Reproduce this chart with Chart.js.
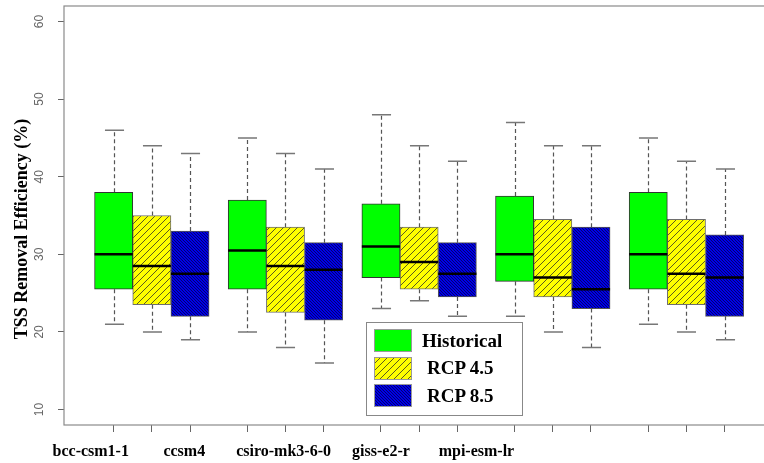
<!DOCTYPE html>
<html>
<head>
<meta charset="utf-8">
<script src="https://cdn.jsdelivr.net/npm/chart.js@4.4.1/dist/chart.umd.min.js"></script>
<style>
html, body { margin: 0; padding: 0; overflow: hidden; background: #fff; }
#wrap { position: relative; width: 764px; height: 463px; overflow: hidden; }
#grafico { position: absolute; left: 0; top: 0; }
#leyenda { position: absolute; left: 366px; top: 322px; width: 155px; height: 92px; border: 1px solid #888; background: #fff;
  font: bold 19px "Liberation Serif", "Times New Roman", serif; color: #000; }
.fila { position: absolute; left: 7px; height: 23px; display: flex; align-items: center; }
.fila canvas { display: block; }
.fila span { margin-left: 10px; }
</style>
</head>
<body>
<div id="wrap">
  <canvas id="grafico" width="810" height="463"></canvas>
  <div id="leyenda"></div>
</div>
<script>
// ---- datos ----
var modelos = ['bcc-csm1-1', 'ccsm4', 'csiro-mk3-6-0', 'giss-e2-r', 'mpi-esm-lr'];
var series = ['Historical', 'RCP 4.5', 'RCP 8.5'];

// bigote inferior, Q1, mediana, Q3, bigote superior (uno por modelo)
var histMin = [21, 20, 23, 22, 21];
var histQ1  = [25.5, 25.5, 27, 26.5, 25.5];
var histMed = [30, 30.5, 31, 30, 30];
var histQ3  = [38, 37, 36.5, 37.5, 38];
var histMax = [46, 45, 48, 47, 45];

var rcp45Min = [20, 18, 24, 20, 20];
var rcp45Q1  = [23.5, 22.5, 25.5, 24.5, 23.5];
var rcp45Med = [28.5, 28.5, 29, 27, 27.5];
var rcp45Q3  = [35, 33.5, 33.5, 34.5, 34.5];
var rcp45Max = [44, 43, 44, 44, 42];

var rcp85Min = [19, 16, 22, 18, 19];
var rcp85Q1  = [22, 21.5, 24.5, 23, 22];
var rcp85Med = [27.5, 28, 27.5, 25.5, 27];
var rcp85Q3  = [33, 31.5, 31.5, 33.5, 32.5];
var rcp85Max = [43, 41, 42, 44, 41];

var yTicks = [10, 20, 30, 40, 50, 60];

// ---- layout ----
var separacion = 0.5;                  // hueco entre grupos (en unidades de caja)
var etiquetasEn = [0.4, 2.85, 5.45, 8.0, 10.5]; // donde R dejo las etiquetas del eje x

var stats = [
    { min: histMin, q1: histQ1, med: histMed, q3: histQ3, max: histMax },
    { min: rcp45Min, q1: rcp45Q1, med: rcp45Med, q3: rcp45Q3, max: rcp45Max },
    { min: rcp85Min, q1: rcp85Q1, med: rcp85Med, q3: rcp85Q3, max: rcp85Max }
];

function posicion(g, k) { return 1 + g * (series.length + separacion) + k; }

function rayado(ctx, fondo, linea, paso, sentido, grosor) {
    var c = document.createElement('canvas');
    c.width = paso; c.height = paso;
    var g = c.getContext('2d');
    g.fillStyle = fondo;
    g.fillRect(0, 0, paso, paso);
    g.strokeStyle = linea;
    g.lineWidth = grosor;
    g.beginPath();
    for (var o = -paso; o <= paso; o += paso) {
        if (sentido > 0) { g.moveTo(o, paso); g.lineTo(o + paso, 0); }
        else { g.moveTo(o, 0); g.lineTo(o + paso, paso); }
    }
    g.stroke();
    return ctx.createPattern(c, 'repeat');
}

function rellenos(ctx) {
    return [
        '#00ff00',
        rayado(ctx, '#ffff00', '#4a4a20', 7, 1, 0.9),
        rayado(ctx, '#0000e6', '#000060', 3, -1, 0.9)
    ];
}
var bordes = ['#333333', '#6e6e6e', '#555555'];

var ctx = document.getElementById('grafico').getContext('2d');
var fills = rellenos(ctx);

var datasets = series.map(function(s, k) {
    return {
        label: s,
        data: modelos.map(function(m, g) {
            return { x: posicion(g, k), y: [stats[k].q1[g], stats[k].q3[g]] };
        }),
        backgroundColor: fills[k],
        borderColor: bordes[k],
        borderWidth: 1,
        borderSkipped: false,
        grouped: false,
        barPercentage: 1,
        categoryPercentage: 1
    };
});

// primero las marcas de cada caja, despues los lugares de las etiquetas
var posiciones = [];
modelos.forEach(function(m, g) { series.forEach(function(s, k) { posiciones.push(posicion(g, k)); }); });
var nMarcas = posiciones.length;
var ticksX = posiciones.concat(etiquetasEn);

function sinPadding(s) {
    s.paddingLeft = 0; s.paddingRight = 0; s.paddingTop = 0; s.paddingBottom = 0;
}

var cajas = {
    id: 'cajas',
    beforeDatasetsDraw: function(chart) {
        var c = chart.ctx, y = chart.scales.y;
        c.save();
        stats.forEach(function(st, k) {
            chart.getDatasetMeta(k).data.forEach(function(bar, g) {
                var x = Math.round(bar.x) + 0.5, w = bar.width;
                c.strokeStyle = '#555';
                c.lineWidth = 1.2;
                c.setLineDash([4, 3]);
                c.beginPath();
                c.moveTo(x, y.getPixelForValue(st.q3[g])); c.lineTo(x, y.getPixelForValue(st.max[g]));
                c.moveTo(x, y.getPixelForValue(st.q1[g])); c.lineTo(x, y.getPixelForValue(st.min[g]));
                c.stroke();
                c.setLineDash([]);
                c.strokeStyle = '#777';
                c.lineWidth = 1.5;
                c.beginPath();
                c.moveTo(x - w / 4, y.getPixelForValue(st.max[g])); c.lineTo(x + w / 4, y.getPixelForValue(st.max[g]));
                c.moveTo(x - w / 4, y.getPixelForValue(st.min[g])); c.lineTo(x + w / 4, y.getPixelForValue(st.min[g]));
                c.stroke();
            });
        });
        c.restore();
    },
    afterDatasetsDraw: function(chart) {
        var c = chart.ctx, y = chart.scales.y, a = chart.chartArea;
        c.save();
        c.strokeStyle = '#000';
        c.lineWidth = 2.5;
        stats.forEach(function(st, k) {
            chart.getDatasetMeta(k).data.forEach(function(bar, g) {
                var py = y.getPixelForValue(st.med[g]);
                c.beginPath();
                c.moveTo(bar.x - bar.width / 2, py);
                c.lineTo(bar.x + bar.width / 2, py);
                c.stroke();
            });
        });
        c.strokeStyle = '#8a8a8a';
        c.lineWidth = 1.2;
        c.strokeRect(a.left, a.top, a.right - a.left, a.bottom - a.top);
        c.restore();
    }
};

var chart = new Chart(ctx, {
    type: 'bar',
    data: { datasets: datasets },
    plugins: [cajas],
    options: {
        responsive: false,
        animation: false,
        layout: { padding: { top: 6, left: 0, right: 9, bottom: 0 } },
        plugins: { legend: { display: false }, tooltip: { enabled: false } },
        scales: {
            x: {
                type: 'linear', position: 'bottom', offset: false,
                min: -0.3, max: 19,
                afterBuildTicks: function(s) { s.ticks = ticksX.map(function(v) { return { value: v }; }); },
                afterFit: function(s) { s.height = 38; sinPadding(s); },
                ticks: {
                    autoSkip: false, maxRotation: 0, padding: 10, color: '#000',
                    font: { family: '"Liberation Serif", "Times New Roman", serif', size: 16, weight: 'bold' },
                    callback: function(v, i) { return i < nMarcas ? '' : modelos[i - nMarcas]; }
                },
                grid: {
                    offset: false, drawOnChartArea: false, drawTicks: true, tickLength: 7, lineWidth: 1,
                    tickColor: function(c) { return c.index < nMarcas ? '#666' : 'rgba(0,0,0,0)'; }
                },
                border: { display: false }
            },
            y: {
                min: 8, max: 62,
                afterBuildTicks: function(s) { s.ticks = yTicks.map(function(v) { return { value: v }; }); },
                afterFit: function(s) { s.width = 64; sinPadding(s); },
                ticks: {
                    minRotation: 90, maxRotation: 90, crossAlign: 'center', padding: 12,
                    color: '#666', font: { family: '"Liberation Sans", Arial, sans-serif', size: 12 }
                },
                grid: { drawOnChartArea: false, tickLength: 6, tickColor: '#666' },
                border: { display: false },
                title: {
                    display: true, text: 'TSS Removal Efficiency (%)      ', color: '#000',
                    padding: { top: 12, bottom: 0 },
                    font: { family: '"Liberation Serif", "Times New Roman", serif', size: 18, weight: 'bold' }
                }
            }
        }
    }
});

// leyenda en html, con los mismos rellenos que las cajas
var leyenda = document.getElementById('leyenda');
chart.data.datasets.forEach(function(ds, k) {
    var fila = document.createElement('div');
    fila.className = 'fila';
    fila.style.top = (6 + k * 27.5) + 'px';
    var mini = document.createElement('canvas');
    mini.width = 38; mini.height = 23;
    var mc = mini.getContext('2d');
    mc.fillStyle = rellenos(mc)[k];
    mc.fillRect(0, 0, 38, 23);
    mc.strokeStyle = '#9a9a9a';
    mc.strokeRect(0.5, 0.5, 37, 22);
    var txt = document.createElement('span');
    txt.textContent = ds.label;
    if (k > 0) txt.style.marginLeft = '15px';
    fila.appendChild(mini);
    fila.appendChild(txt);
    leyenda.appendChild(fila);
});
</script>
</body>
</html>
